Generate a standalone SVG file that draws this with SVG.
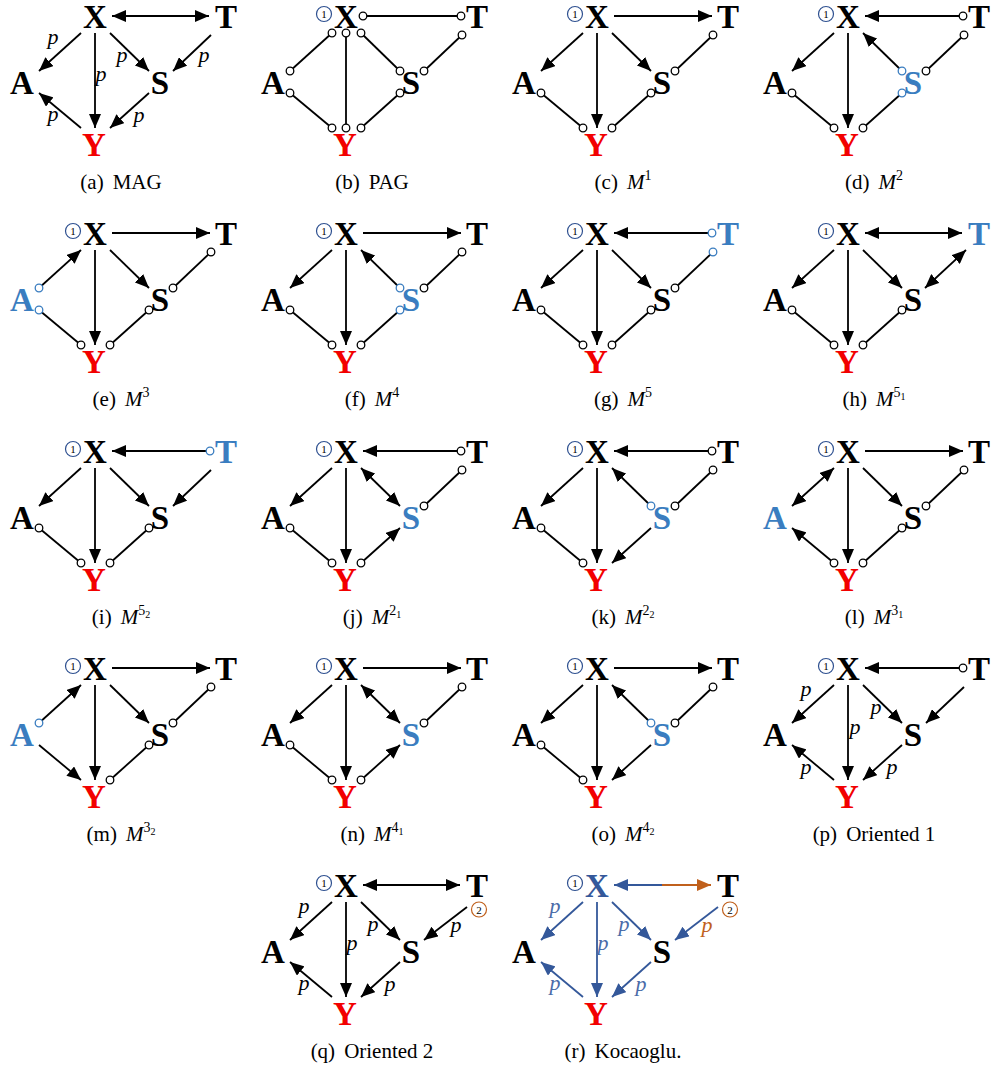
<svg xmlns="http://www.w3.org/2000/svg" width="995" height="1066" viewBox="0 0 995 1066">
<style>
.n{font-family:"Liberation Serif","Times New Roman",serif;font-weight:bold;font-size:33px;text-anchor:middle;fill:#000}
.red{fill:#F20000}
.hl{fill:#3A7DC0}
.kb{fill:#34589A}
.e{stroke:#000;stroke-width:1.8;fill:none}
.eb{stroke:#34589A;stroke-width:1.8;fill:none}
.eo{stroke:#C0601C;stroke-width:1.8;fill:none}
.o{fill:#fff;stroke:#000;stroke-width:1.3}
.ob{fill:#fff;stroke:#3A7DC0;stroke-width:1.3}
.p{font-family:"Liberation Serif","Times New Roman",serif;font-style:italic;font-size:22px;text-anchor:middle;fill:#000}
.pb{fill:#4A6BA8}
.po{fill:#C0601C}
.cap{font-family:"Liberation Serif","Times New Roman",serif;font-size:21px;text-anchor:middle;fill:#000}
.mi{font-style:italic}
.c1{fill:none;stroke:#2E5090;stroke-width:1.2}
.c2{fill:none;stroke:#C0601C;stroke-width:1.2}
.cn{font-family:"Liberation Serif","Times New Roman",serif;font-size:11px;text-anchor:middle;fill:#000}
</style>
<defs>
<marker id="ah" viewBox="0 0 14 12" refX="14" refY="6" markerWidth="14" markerHeight="12" markerUnits="userSpaceOnUse" orient="auto-start-reverse"><path d="M0,0 L14,6 L0,12 z" fill="#000"/></marker>
<marker id="ahb" viewBox="0 0 14 12" refX="14" refY="6" markerWidth="14" markerHeight="12" markerUnits="userSpaceOnUse" orient="auto-start-reverse"><path d="M0,0 L14,6 L0,12 z" fill="#34589A"/></marker>
<marker id="aho" viewBox="0 0 14 12" refX="14" refY="6" markerWidth="14" markerHeight="12" markerUnits="userSpaceOnUse" orient="auto-start-reverse"><path d="M0,0 L14,6 L0,12 z" fill="#C0601C"/></marker>
</defs>
<rect width="995" height="1066" fill="#fff"/>

<!-- (a) MAG -->
<g id="pa" transform="translate(0,0)">
 <g id="pa-edges">
  <line class="e" x1="112" y1="16" x2="209" y2="16" marker-start="url(#ah)" marker-end="url(#ah)"/>
  <line class="e" x1="81" y1="33" x2="39" y2="71" marker-end="url(#ah)"/>
  <line class="e" x1="95" y1="33" x2="95" y2="128" marker-end="url(#ah)"/>
  <line class="e" x1="110" y1="33" x2="149" y2="71" marker-end="url(#ah)"/>
  <line class="e" x1="211" y1="35" x2="173" y2="71" marker-end="url(#ah)"/>
  <line class="e" x1="39" y1="93" x2="81" y2="128" marker-start="url(#ah)"/>
  <line class="e" x1="149" y1="93" x2="110" y2="128" marker-end="url(#ah)"/>
  <text class="p" x="53" y="44">p</text><text class="p" x="101" y="81">p</text><text class="p" x="122" y="62">p</text>
  <text class="p" x="204" y="62">p</text><text class="p" x="53" y="121">p</text><text class="p" x="139" y="122">p</text>
 </g>
 <g id="pa-X"><text class="n" x="95" y="28">X</text></g>
 <g id="pa-T"><text class="n" x="226" y="28">T</text></g>
 <g id="pa-A"><text class="n" x="22" y="94">A</text></g>
 <g id="pa-S"><text class="n" x="160" y="94">S</text></g>
 <g id="pa-Y"><text class="n red" x="94" y="156">Y</text></g>
 <text class="cap" x="121" y="189">(a)<tspan dx="9">MAG</tspan></text>
</g>

<!-- (b) PAG -->
<g id="pb" transform="translate(251,0)">
 <g id="pb-edges">
  <line class="e" x1="112" y1="16" x2="210" y2="16"/>
  <line class="e" x1="81" y1="33" x2="39" y2="71"/>
  <line class="e" x1="95" y1="33" x2="95" y2="128"/>
  <line class="e" x1="110" y1="33" x2="149" y2="71"/>
  <line class="e" x1="211" y1="35" x2="173" y2="71"/>
  <line class="e" x1="39" y1="93" x2="81" y2="128"/>
  <line class="e" x1="149" y1="93" x2="110" y2="128"/>
  <circle class="o" cx="112" cy="16" r="3.8"/><circle class="o" cx="210" cy="16" r="3.8"/>
  <circle class="o" cx="81" cy="33" r="3.8"/><circle class="o" cx="39" cy="71" r="3.8"/>
  <circle class="o" cx="95" cy="33" r="3.8"/><circle class="o" cx="95" cy="128" r="3.8"/>
  <circle class="o" cx="110" cy="33" r="3.8"/><circle class="o" cx="149" cy="71" r="3.8"/>
  <circle class="o" cx="211" cy="35" r="3.8"/><circle class="o" cx="173" cy="71" r="3.8"/>
  <circle class="o" cx="39" cy="93" r="3.8"/><circle class="o" cx="81" cy="128" r="3.8"/>
  <circle class="o" cx="149" cy="93" r="3.8"/><circle class="o" cx="110" cy="128" r="3.8"/>
 </g>
 <g id="pb-X"><circle class="c1" cx="73" cy="14" r="7.5"/><text class="cn" x="73" y="18">1</text><text class="n" x="95" y="28">X</text></g>
 <g id="pb-T"><text class="n" x="226" y="28">T</text></g>
 <g id="pb-A"><text class="n" x="22" y="94">A</text></g>
 <g id="pb-S"><text class="n" x="160" y="94">S</text></g>
 <g id="pb-Y"><text class="n red" x="94" y="156">Y</text></g>
 <text class="cap" x="121" y="189">(b)<tspan dx="9">PAG</tspan></text>
</g>

<!-- (c) M1 -->
<g id="pc" transform="translate(502,0)">
 <g id="pc-edges">
  <line class="e" x1="112" y1="16" x2="210" y2="16" marker-end="url(#ah)"/>
  <line class="e" x1="81" y1="33" x2="39" y2="71" marker-end="url(#ah)"/>
  <line class="e" x1="95" y1="33" x2="95" y2="128" marker-end="url(#ah)"/>
  <line class="e" x1="110" y1="33" x2="149" y2="71" marker-end="url(#ah)"/>
  <line class="e" x1="211" y1="35" x2="173" y2="71"/>
  <line class="e" x1="39" y1="93" x2="81" y2="128"/>
  <line class="e" x1="149" y1="93" x2="110" y2="128"/>
  <circle class="o" cx="211" cy="35" r="3.8"/><circle class="o" cx="173" cy="71" r="3.8"/>
  <circle class="o" cx="39" cy="93" r="3.8"/><circle class="o" cx="81" cy="128" r="3.8"/>
  <circle class="o" cx="149" cy="93" r="3.8"/><circle class="o" cx="110" cy="128" r="3.8"/>
 </g>
 <g id="pc-X"><circle class="c1" cx="73" cy="14" r="7.5"/><text class="cn" x="73" y="18">1</text><text class="n" x="95" y="28">X</text></g>
 <g id="pc-T"><text class="n" x="226" y="28">T</text></g>
 <g id="pc-A"><text class="n" x="22" y="94">A</text></g>
 <g id="pc-S"><text class="n" x="160" y="94">S</text></g>
 <g id="pc-Y"><text class="n red" x="94" y="156">Y</text></g>
 <text class="cap" x="121" y="189">(c)<tspan dx="9" class="mi">M</tspan><tspan dy="-9" font-size="14">1</tspan></text>
</g>

<!-- (d) M2 -->
<g id="pd" transform="translate(753,0)">
 <g id="pd-edges">
  <line class="e" x1="112" y1="16" x2="210" y2="16" marker-start="url(#ah)"/>
  <line class="e" x1="81" y1="33" x2="39" y2="71" marker-end="url(#ah)"/>
  <line class="e" x1="95" y1="33" x2="95" y2="128" marker-end="url(#ah)"/>
  <line class="e" x1="110" y1="33" x2="149" y2="71" marker-start="url(#ah)"/>
  <line class="e" x1="211" y1="35" x2="173" y2="71"/>
  <line class="e" x1="39" y1="93" x2="81" y2="128"/>
  <line class="e" x1="149" y1="93" x2="110" y2="128"/>
  <circle class="o" cx="210" cy="16" r="3.8"/><circle class="ob" cx="149" cy="71" r="3.8"/>
  <circle class="o" cx="211" cy="35" r="3.8"/><circle class="o" cx="173" cy="71" r="3.8"/>
  <circle class="o" cx="39" cy="93" r="3.8"/><circle class="o" cx="81" cy="128" r="3.8"/>
  <circle class="ob" cx="149" cy="93" r="3.8"/><circle class="o" cx="110" cy="128" r="3.8"/>
 </g>
 <g id="pd-X"><circle class="c1" cx="73" cy="14" r="7.5"/><text class="cn" x="73" y="18">1</text><text class="n" x="95" y="28">X</text></g>
 <g id="pd-T"><text class="n" x="226" y="28">T</text></g>
 <g id="pd-A"><text class="n" x="22" y="94">A</text></g>
 <g id="pd-S"><text class="n hl" x="160" y="94">S</text></g>
 <g id="pd-Y"><text class="n red" x="94" y="156">Y</text></g>
 <text class="cap" x="121" y="189">(d)<tspan dx="9" class="mi">M</tspan><tspan dy="-9" font-size="14">2</tspan></text>
</g>

<!-- (e) M3 -->
<g id="pe" transform="translate(0,217)">
 <g id="pe-edges">
  <line class="e" x1="112" y1="16" x2="210" y2="16" marker-end="url(#ah)"/>
  <line class="e" x1="81" y1="33" x2="39" y2="71" marker-start="url(#ah)"/>
  <line class="e" x1="95" y1="33" x2="95" y2="128" marker-end="url(#ah)"/>
  <line class="e" x1="110" y1="33" x2="149" y2="71" marker-end="url(#ah)"/>
  <line class="e" x1="211" y1="35" x2="173" y2="71"/>
  <line class="e" x1="39" y1="93" x2="81" y2="128"/>
  <line class="e" x1="149" y1="93" x2="110" y2="128"/>
  <circle class="ob" cx="39" cy="71" r="3.8"/>
  <circle class="o" cx="211" cy="35" r="3.8"/><circle class="o" cx="173" cy="71" r="3.8"/>
  <circle class="ob" cx="39" cy="93" r="3.8"/><circle class="o" cx="81" cy="128" r="3.8"/>
  <circle class="o" cx="149" cy="93" r="3.8"/><circle class="o" cx="110" cy="128" r="3.8"/>
 </g>
 <g id="pe-X"><circle class="c1" cx="73" cy="14" r="7.5"/><text class="cn" x="73" y="18">1</text><text class="n" x="95" y="28">X</text></g>
 <g id="pe-T"><text class="n" x="226" y="28">T</text></g>
 <g id="pe-A"><text class="n hl" x="22" y="94">A</text></g>
 <g id="pe-S"><text class="n" x="160" y="94">S</text></g>
 <g id="pe-Y"><text class="n red" x="94" y="156">Y</text></g>
 <text class="cap" x="121" y="189">(e)<tspan dx="9" class="mi">M</tspan><tspan dy="-9" font-size="14">3</tspan></text>
</g>

<!-- (f) M4 -->
<g id="pf" transform="translate(251,217)">
 <g id="pf-edges">
  <line class="e" x1="112" y1="16" x2="210" y2="16" marker-end="url(#ah)"/>
  <line class="e" x1="81" y1="33" x2="39" y2="71" marker-end="url(#ah)"/>
  <line class="e" x1="95" y1="33" x2="95" y2="128" marker-end="url(#ah)"/>
  <line class="e" x1="110" y1="33" x2="149" y2="71" marker-start="url(#ah)"/>
  <line class="e" x1="211" y1="35" x2="173" y2="71"/>
  <line class="e" x1="39" y1="93" x2="81" y2="128"/>
  <line class="e" x1="149" y1="93" x2="110" y2="128"/>
  <circle class="ob" cx="149" cy="71" r="3.8"/>
  <circle class="o" cx="211" cy="35" r="3.8"/><circle class="o" cx="173" cy="71" r="3.8"/>
  <circle class="o" cx="39" cy="93" r="3.8"/><circle class="o" cx="81" cy="128" r="3.8"/>
  <circle class="ob" cx="149" cy="93" r="3.8"/><circle class="o" cx="110" cy="128" r="3.8"/>
 </g>
 <g id="pf-X"><circle class="c1" cx="73" cy="14" r="7.5"/><text class="cn" x="73" y="18">1</text><text class="n" x="95" y="28">X</text></g>
 <g id="pf-T"><text class="n" x="226" y="28">T</text></g>
 <g id="pf-A"><text class="n" x="22" y="94">A</text></g>
 <g id="pf-S"><text class="n hl" x="160" y="94">S</text></g>
 <g id="pf-Y"><text class="n red" x="94" y="156">Y</text></g>
 <text class="cap" x="121" y="189">(f)<tspan dx="9" class="mi">M</tspan><tspan dy="-9" font-size="14">4</tspan></text>
</g>

<!-- (g) M5 -->
<g id="pg" transform="translate(502,217)">
 <g id="pg-edges">
  <line class="e" x1="112" y1="16" x2="210" y2="16" marker-start="url(#ah)"/>
  <line class="e" x1="81" y1="33" x2="39" y2="71" marker-end="url(#ah)"/>
  <line class="e" x1="95" y1="33" x2="95" y2="128" marker-end="url(#ah)"/>
  <line class="e" x1="110" y1="33" x2="149" y2="71" marker-end="url(#ah)"/>
  <line class="e" x1="211" y1="35" x2="173" y2="71"/>
  <line class="e" x1="39" y1="93" x2="81" y2="128"/>
  <line class="e" x1="149" y1="93" x2="110" y2="128"/>
  <circle class="ob" cx="210" cy="16" r="3.8"/>
  <circle class="ob" cx="211" cy="35" r="3.8"/><circle class="o" cx="173" cy="71" r="3.8"/>
  <circle class="o" cx="39" cy="93" r="3.8"/><circle class="o" cx="81" cy="128" r="3.8"/>
  <circle class="o" cx="149" cy="93" r="3.8"/><circle class="o" cx="110" cy="128" r="3.8"/>
 </g>
 <g id="pg-X"><circle class="c1" cx="73" cy="14" r="7.5"/><text class="cn" x="73" y="18">1</text><text class="n" x="95" y="28">X</text></g>
 <g id="pg-T"><text class="n hl" x="226" y="28">T</text></g>
 <g id="pg-A"><text class="n" x="22" y="94">A</text></g>
 <g id="pg-S"><text class="n" x="160" y="94">S</text></g>
 <g id="pg-Y"><text class="n red" x="94" y="156">Y</text></g>
 <text class="cap" x="121" y="189">(g)<tspan dx="9" class="mi">M</tspan><tspan dy="-9" font-size="14">5</tspan></text>
</g>

<!-- (h) M5_1 -->
<g id="ph" transform="translate(753,217)">
 <g id="ph-edges">
  <line class="e" x1="112" y1="16" x2="209" y2="16" marker-start="url(#ah)" marker-end="url(#ah)"/>
  <line class="e" x1="81" y1="33" x2="39" y2="71" marker-end="url(#ah)"/>
  <line class="e" x1="95" y1="33" x2="95" y2="128" marker-end="url(#ah)"/>
  <line class="e" x1="110" y1="33" x2="149" y2="71" marker-end="url(#ah)"/>
  <line class="e" x1="213" y1="33" x2="172" y2="71" marker-start="url(#ah)" marker-end="url(#ah)"/>
  <line class="e" x1="39" y1="93" x2="81" y2="128"/>
  <line class="e" x1="149" y1="93" x2="110" y2="128"/>
  <circle class="o" cx="39" cy="93" r="3.8"/><circle class="o" cx="81" cy="128" r="3.8"/>
  <circle class="o" cx="149" cy="93" r="3.8"/><circle class="o" cx="110" cy="128" r="3.8"/>
 </g>
 <g id="ph-X"><circle class="c1" cx="73" cy="14" r="7.5"/><text class="cn" x="73" y="18">1</text><text class="n" x="95" y="28">X</text></g>
 <g id="ph-T"><text class="n hl" x="226" y="28">T</text></g>
 <g id="ph-A"><text class="n" x="22" y="94">A</text></g>
 <g id="ph-S"><text class="n" x="160" y="94">S</text></g>
 <g id="ph-Y"><text class="n red" x="94" y="156">Y</text></g>
 <text class="cap" x="121" y="189">(h)<tspan dx="9" class="mi">M</tspan><tspan dy="-9" font-size="14">5</tspan><tspan dy="3" font-size="10">1</tspan></text>
</g>

<!-- (i) M5_2 -->
<g id="pi" transform="translate(0,435)">
 <g id="pi-edges">
  <line class="e" x1="112" y1="16" x2="210" y2="16" marker-start="url(#ah)"/>
  <line class="e" x1="81" y1="33" x2="39" y2="71" marker-end="url(#ah)"/>
  <line class="e" x1="95" y1="33" x2="95" y2="128" marker-end="url(#ah)"/>
  <line class="e" x1="110" y1="33" x2="149" y2="71" marker-end="url(#ah)"/>
  <line class="e" x1="211" y1="35" x2="173" y2="71" marker-end="url(#ah)"/>
  <line class="e" x1="39" y1="93" x2="81" y2="128"/>
  <line class="e" x1="149" y1="93" x2="110" y2="128"/>
  <circle class="ob" cx="210" cy="16" r="3.8"/>
  <circle class="o" cx="39" cy="93" r="3.8"/><circle class="o" cx="81" cy="128" r="3.8"/>
  <circle class="o" cx="149" cy="93" r="3.8"/><circle class="o" cx="110" cy="128" r="3.8"/>
 </g>
 <g id="pi-X"><circle class="c1" cx="73" cy="14" r="7.5"/><text class="cn" x="73" y="18">1</text><text class="n" x="95" y="28">X</text></g>
 <g id="pi-T"><text class="n hl" x="226" y="28">T</text></g>
 <g id="pi-A"><text class="n" x="22" y="94">A</text></g>
 <g id="pi-S"><text class="n" x="160" y="94">S</text></g>
 <g id="pi-Y"><text class="n red" x="94" y="156">Y</text></g>
 <text class="cap" x="121" y="189">(i)<tspan dx="9" class="mi">M</tspan><tspan dy="-9" font-size="14">5</tspan><tspan dy="3" font-size="10">2</tspan></text>
</g>

<!-- (j) M2_1 -->
<g id="pj" transform="translate(251,435)">
 <g id="pj-edges">
  <line class="e" x1="112" y1="16" x2="210" y2="16" marker-start="url(#ah)"/>
  <line class="e" x1="81" y1="33" x2="39" y2="71" marker-end="url(#ah)"/>
  <line class="e" x1="95" y1="33" x2="95" y2="128" marker-end="url(#ah)"/>
  <line class="e" x1="110" y1="33" x2="149" y2="71" marker-start="url(#ah)" marker-end="url(#ah)"/>
  <line class="e" x1="211" y1="35" x2="173" y2="71"/>
  <line class="e" x1="39" y1="93" x2="81" y2="128"/>
  <line class="e" x1="149" y1="93" x2="110" y2="128" marker-start="url(#ah)"/>
  <circle class="o" cx="210" cy="16" r="3.8"/>
  <circle class="o" cx="211" cy="35" r="3.8"/><circle class="o" cx="173" cy="71" r="3.8"/>
  <circle class="o" cx="39" cy="93" r="3.8"/><circle class="o" cx="81" cy="128" r="3.8"/>
  <circle class="o" cx="110" cy="128" r="3.8"/>
 </g>
 <g id="pj-X"><circle class="c1" cx="73" cy="14" r="7.5"/><text class="cn" x="73" y="18">1</text><text class="n" x="95" y="28">X</text></g>
 <g id="pj-T"><text class="n" x="226" y="28">T</text></g>
 <g id="pj-A"><text class="n" x="22" y="94">A</text></g>
 <g id="pj-S"><text class="n hl" x="160" y="94">S</text></g>
 <g id="pj-Y"><text class="n red" x="94" y="156">Y</text></g>
 <text class="cap" x="121" y="189">(j)<tspan dx="9" class="mi">M</tspan><tspan dy="-9" font-size="14">2</tspan><tspan dy="3" font-size="10">1</tspan></text>
</g>

<!-- (k) M2_2 -->
<g id="pk" transform="translate(502,435)">
 <g id="pk-edges">
  <line class="e" x1="112" y1="16" x2="210" y2="16" marker-start="url(#ah)"/>
  <line class="e" x1="81" y1="33" x2="39" y2="71" marker-end="url(#ah)"/>
  <line class="e" x1="95" y1="33" x2="95" y2="128" marker-end="url(#ah)"/>
  <line class="e" x1="110" y1="33" x2="149" y2="71" marker-start="url(#ah)"/>
  <line class="e" x1="211" y1="35" x2="173" y2="71"/>
  <line class="e" x1="39" y1="93" x2="81" y2="128"/>
  <line class="e" x1="149" y1="93" x2="110" y2="128" marker-end="url(#ah)"/>
  <circle class="o" cx="210" cy="16" r="3.8"/><circle class="ob" cx="149" cy="71" r="3.8"/>
  <circle class="o" cx="211" cy="35" r="3.8"/><circle class="o" cx="173" cy="71" r="3.8"/>
  <circle class="o" cx="39" cy="93" r="3.8"/><circle class="o" cx="81" cy="128" r="3.8"/>
 </g>
 <g id="pk-X"><circle class="c1" cx="73" cy="14" r="7.5"/><text class="cn" x="73" y="18">1</text><text class="n" x="95" y="28">X</text></g>
 <g id="pk-T"><text class="n" x="226" y="28">T</text></g>
 <g id="pk-A"><text class="n" x="22" y="94">A</text></g>
 <g id="pk-S"><text class="n hl" x="160" y="94">S</text></g>
 <g id="pk-Y"><text class="n red" x="94" y="156">Y</text></g>
 <text class="cap" x="121" y="189">(k)<tspan dx="9" class="mi">M</tspan><tspan dy="-9" font-size="14">2</tspan><tspan dy="3" font-size="10">2</tspan></text>
</g>

<!-- (l) M3_1 -->
<g id="pl" transform="translate(753,435)">
 <g id="pl-edges">
  <line class="e" x1="112" y1="16" x2="210" y2="16" marker-end="url(#ah)"/>
  <line class="e" x1="81" y1="33" x2="39" y2="71" marker-start="url(#ah)" marker-end="url(#ah)"/>
  <line class="e" x1="95" y1="33" x2="95" y2="128" marker-end="url(#ah)"/>
  <line class="e" x1="110" y1="33" x2="149" y2="71" marker-end="url(#ah)"/>
  <line class="e" x1="211" y1="35" x2="173" y2="71"/>
  <line class="e" x1="39" y1="93" x2="81" y2="128" marker-start="url(#ah)"/>
  <line class="e" x1="149" y1="93" x2="110" y2="128"/>
  <circle class="o" cx="211" cy="35" r="3.8"/><circle class="o" cx="173" cy="71" r="3.8"/>
  <circle class="o" cx="81" cy="128" r="3.8"/>
  <circle class="o" cx="149" cy="93" r="3.8"/><circle class="o" cx="110" cy="128" r="3.8"/>
 </g>
 <g id="pl-X"><circle class="c1" cx="73" cy="14" r="7.5"/><text class="cn" x="73" y="18">1</text><text class="n" x="95" y="28">X</text></g>
 <g id="pl-T"><text class="n" x="226" y="28">T</text></g>
 <g id="pl-A"><text class="n hl" x="22" y="94">A</text></g>
 <g id="pl-S"><text class="n" x="160" y="94">S</text></g>
 <g id="pl-Y"><text class="n red" x="94" y="156">Y</text></g>
 <text class="cap" x="121" y="189">(l)<tspan dx="9" class="mi">M</tspan><tspan dy="-9" font-size="14">3</tspan><tspan dy="3" font-size="10">1</tspan></text>
</g>

<!-- (m) M3_2 -->
<g id="pm" transform="translate(0,652)">
 <g id="pm-edges">
  <line class="e" x1="112" y1="16" x2="210" y2="16" marker-end="url(#ah)"/>
  <line class="e" x1="81" y1="33" x2="39" y2="71" marker-start="url(#ah)"/>
  <line class="e" x1="95" y1="33" x2="95" y2="128" marker-end="url(#ah)"/>
  <line class="e" x1="110" y1="33" x2="149" y2="71" marker-end="url(#ah)"/>
  <line class="e" x1="211" y1="35" x2="173" y2="71"/>
  <line class="e" x1="39" y1="93" x2="81" y2="128" marker-end="url(#ah)"/>
  <line class="e" x1="149" y1="93" x2="110" y2="128"/>
  <circle class="ob" cx="39" cy="71" r="3.8"/>
  <circle class="o" cx="211" cy="35" r="3.8"/><circle class="o" cx="173" cy="71" r="3.8"/>
  <circle class="o" cx="149" cy="93" r="3.8"/><circle class="o" cx="110" cy="128" r="3.8"/>
 </g>
 <g id="pm-X"><circle class="c1" cx="73" cy="14" r="7.5"/><text class="cn" x="73" y="18">1</text><text class="n" x="95" y="28">X</text></g>
 <g id="pm-T"><text class="n" x="226" y="28">T</text></g>
 <g id="pm-A"><text class="n hl" x="22" y="94">A</text></g>
 <g id="pm-S"><text class="n" x="160" y="94">S</text></g>
 <g id="pm-Y"><text class="n red" x="94" y="156">Y</text></g>
 <text class="cap" x="121" y="189">(m)<tspan dx="9" class="mi">M</tspan><tspan dy="-9" font-size="14">3</tspan><tspan dy="3" font-size="10">2</tspan></text>
</g>

<!-- (n) M4_1 -->
<g id="pn" transform="translate(251,652)">
 <g id="pn-edges">
  <line class="e" x1="112" y1="16" x2="210" y2="16" marker-end="url(#ah)"/>
  <line class="e" x1="81" y1="33" x2="39" y2="71" marker-end="url(#ah)"/>
  <line class="e" x1="95" y1="33" x2="95" y2="128" marker-end="url(#ah)"/>
  <line class="e" x1="110" y1="33" x2="149" y2="71" marker-start="url(#ah)" marker-end="url(#ah)"/>
  <line class="e" x1="211" y1="35" x2="173" y2="71"/>
  <line class="e" x1="39" y1="93" x2="81" y2="128"/>
  <line class="e" x1="149" y1="93" x2="110" y2="128" marker-start="url(#ah)"/>
  <circle class="o" cx="211" cy="35" r="3.8"/><circle class="o" cx="173" cy="71" r="3.8"/>
  <circle class="o" cx="39" cy="93" r="3.8"/><circle class="o" cx="81" cy="128" r="3.8"/>
  <circle class="o" cx="110" cy="128" r="3.8"/>
 </g>
 <g id="pn-X"><circle class="c1" cx="73" cy="14" r="7.5"/><text class="cn" x="73" y="18">1</text><text class="n" x="95" y="28">X</text></g>
 <g id="pn-T"><text class="n" x="226" y="28">T</text></g>
 <g id="pn-A"><text class="n" x="22" y="94">A</text></g>
 <g id="pn-S"><text class="n hl" x="160" y="94">S</text></g>
 <g id="pn-Y"><text class="n red" x="94" y="156">Y</text></g>
 <text class="cap" x="121" y="189">(n)<tspan dx="9" class="mi">M</tspan><tspan dy="-9" font-size="14">4</tspan><tspan dy="3" font-size="10">1</tspan></text>
</g>

<!-- (o) M4_2 -->
<g id="po" transform="translate(502,652)">
 <g id="po-edges">
  <line class="e" x1="112" y1="16" x2="210" y2="16" marker-end="url(#ah)"/>
  <line class="e" x1="81" y1="33" x2="39" y2="71" marker-end="url(#ah)"/>
  <line class="e" x1="95" y1="33" x2="95" y2="128" marker-end="url(#ah)"/>
  <line class="e" x1="110" y1="33" x2="149" y2="71" marker-start="url(#ah)"/>
  <line class="e" x1="211" y1="35" x2="173" y2="71"/>
  <line class="e" x1="39" y1="93" x2="81" y2="128"/>
  <line class="e" x1="149" y1="93" x2="110" y2="128" marker-end="url(#ah)"/>
  <circle class="ob" cx="149" cy="71" r="3.8"/>
  <circle class="o" cx="211" cy="35" r="3.8"/><circle class="o" cx="173" cy="71" r="3.8"/>
  <circle class="o" cx="39" cy="93" r="3.8"/><circle class="o" cx="81" cy="128" r="3.8"/>
 </g>
 <g id="po-X"><circle class="c1" cx="73" cy="14" r="7.5"/><text class="cn" x="73" y="18">1</text><text class="n" x="95" y="28">X</text></g>
 <g id="po-T"><text class="n" x="226" y="28">T</text></g>
 <g id="po-A"><text class="n" x="22" y="94">A</text></g>
 <g id="po-S"><text class="n hl" x="160" y="94">S</text></g>
 <g id="po-Y"><text class="n red" x="94" y="156">Y</text></g>
 <text class="cap" x="121" y="189">(o)<tspan dx="9" class="mi">M</tspan><tspan dy="-9" font-size="14">4</tspan><tspan dy="3" font-size="10">2</tspan></text>
</g>

<!-- (p) Oriented 1 -->
<g id="pp" transform="translate(753,652)">
 <g id="pp-edges">
  <line class="e" x1="112" y1="16" x2="210" y2="16" marker-start="url(#ah)"/>
  <line class="e" x1="81" y1="33" x2="39" y2="71" marker-end="url(#ah)"/>
  <line class="e" x1="95" y1="33" x2="95" y2="128" marker-end="url(#ah)"/>
  <line class="e" x1="110" y1="33" x2="149" y2="71" marker-end="url(#ah)"/>
  <line class="e" x1="211" y1="35" x2="173" y2="71" marker-end="url(#ah)"/>
  <line class="e" x1="39" y1="93" x2="81" y2="128" marker-start="url(#ah)"/>
  <line class="e" x1="149" y1="93" x2="110" y2="128" marker-end="url(#ah)"/>
  <circle class="o" cx="210" cy="16" r="3.8"/>
  <text class="p" x="53" y="44">p</text><text class="p" x="102" y="82">p</text><text class="p" x="123" y="62">p</text>
  <text class="p" x="53" y="122">p</text><text class="p" x="139" y="122">p</text>
 </g>
 <g id="pp-X"><circle class="c1" cx="73" cy="14" r="7.5"/><text class="cn" x="73" y="18">1</text><text class="n" x="95" y="28">X</text></g>
 <g id="pp-T"><text class="n" x="226" y="28">T</text></g>
 <g id="pp-A"><text class="n" x="22" y="94">A</text></g>
 <g id="pp-S"><text class="n" x="160" y="94">S</text></g>
 <g id="pp-Y"><text class="n red" x="94" y="156">Y</text></g>
 <text class="cap" x="121" y="189">(p)<tspan dx="9">Oriented 1</tspan></text>
</g>

<!-- (q) Oriented 2 -->
<g id="pq" transform="translate(251,869)">
 <g id="pq-edges">
  <line class="e" x1="112" y1="16" x2="209" y2="16" marker-start="url(#ah)" marker-end="url(#ah)"/>
  <line class="e" x1="81" y1="33" x2="39" y2="71" marker-end="url(#ah)"/>
  <line class="e" x1="95" y1="33" x2="95" y2="128" marker-end="url(#ah)"/>
  <line class="e" x1="110" y1="33" x2="149" y2="71" marker-end="url(#ah)"/>
  <line class="e" x1="216" y1="38" x2="173" y2="71" marker-end="url(#ah)"/>
  <line class="e" x1="39" y1="93" x2="81" y2="128" marker-start="url(#ah)"/>
  <line class="e" x1="149" y1="93" x2="110" y2="128" marker-end="url(#ah)"/>
  <text class="p" x="53" y="44">p</text><text class="p" x="101" y="81">p</text><text class="p" x="122" y="62">p</text>
  <text class="p" x="205" y="63">p</text><text class="p" x="53" y="121">p</text><text class="p" x="139" y="122">p</text>
 </g>
 <g id="pq-X"><circle class="c1" cx="73" cy="14" r="7.5"/><text class="cn" x="73" y="18">1</text><text class="n" x="95" y="28">X</text></g>
 <g id="pq-T"><text class="n" x="226" y="28">T</text><circle class="c2" cx="228" cy="40.5" r="7.5"/><text class="cn" x="228" y="44.5">2</text></g>
 <g id="pq-A"><text class="n" x="22" y="94">A</text></g>
 <g id="pq-S"><text class="n" x="160" y="94">S</text></g>
 <g id="pq-Y"><text class="n red" x="94" y="156">Y</text></g>
 <text class="cap" x="121" y="189">(q)<tspan dx="9">Oriented 2</tspan></text>
</g>

<!-- (r) Kocaoglu -->
<g id="pr" transform="translate(502,869)">
 <g id="pr-edges">
  <line class="eb" x1="112" y1="16" x2="161" y2="16" marker-start="url(#ahb)"/>
  <line class="eo" x1="160" y1="16" x2="209" y2="16" marker-end="url(#aho)"/>
  <line class="eb" x1="81" y1="33" x2="39" y2="71" marker-end="url(#ahb)"/>
  <line class="eb" x1="95" y1="33" x2="95" y2="128" marker-end="url(#ahb)"/>
  <line class="eb" x1="110" y1="33" x2="149" y2="71" marker-end="url(#ahb)"/>
  <line class="eb" x1="216" y1="38" x2="173" y2="71" marker-end="url(#ahb)"/>
  <line class="eb" x1="39" y1="93" x2="81" y2="128" marker-start="url(#ahb)"/>
  <line class="eb" x1="149" y1="93" x2="110" y2="128" marker-end="url(#ahb)"/>
  <text class="p pb" x="53" y="44">p</text><text class="p pb" x="101" y="81">p</text><text class="p pb" x="122" y="62">p</text>
  <text class="p po" x="205" y="63">p</text><text class="p pb" x="53" y="121">p</text><text class="p pb" x="139" y="122">p</text>
 </g>
 <g id="pr-X"><circle class="c1" cx="73" cy="14" r="7.5"/><text class="cn" x="73" y="18">1</text><text class="n kb" x="95" y="28">X</text></g>
 <g id="pr-T"><text class="n" x="226" y="28">T</text><circle class="c2" cx="228" cy="40.5" r="7.5"/><text class="cn" x="228" y="44.5">2</text></g>
 <g id="pr-A"><text class="n" x="22" y="94">A</text></g>
 <g id="pr-S"><text class="n" x="160" y="94">S</text></g>
 <g id="pr-Y"><text class="n red" x="94" y="156">Y</text></g>
 <text class="cap" x="121" y="189">(r)<tspan dx="9">Kocaoglu.</tspan></text>
</g>
</svg>
